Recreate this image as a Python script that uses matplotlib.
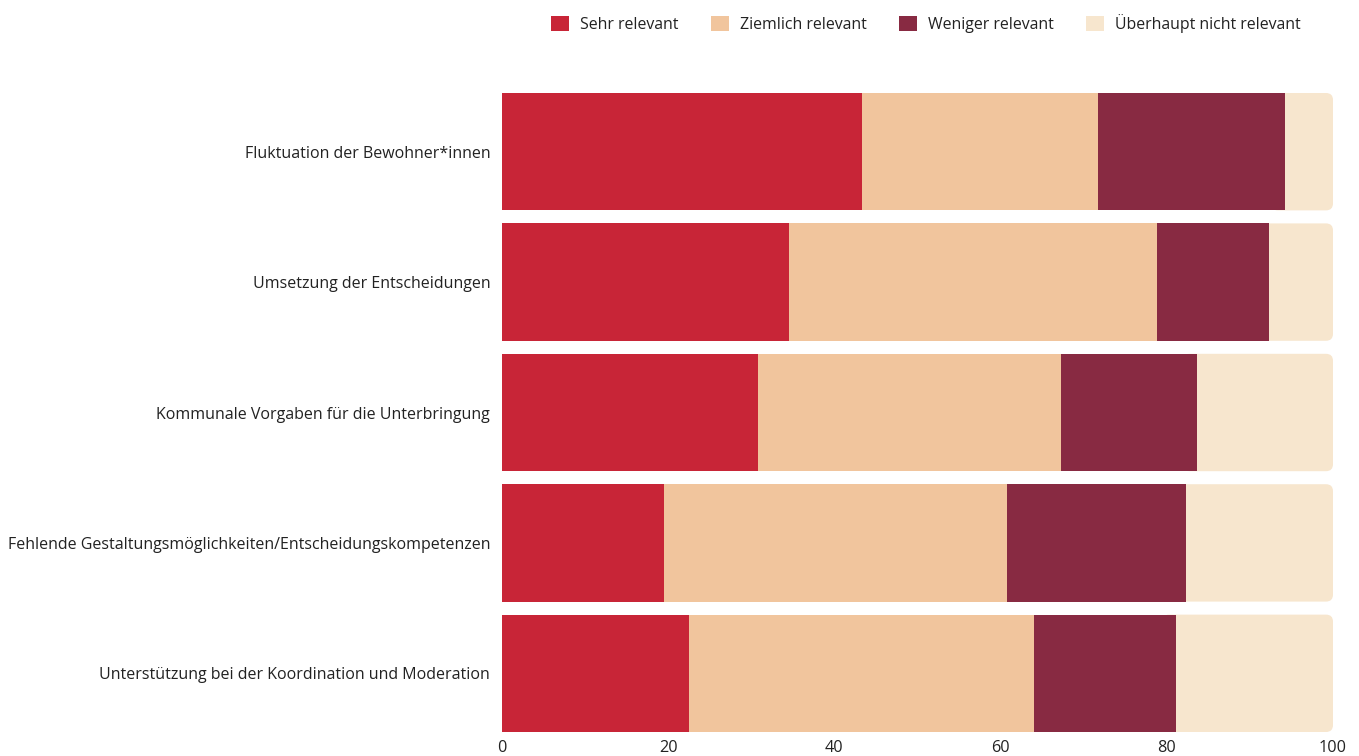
import matplotlib
matplotlib.use("Agg")
import matplotlib.pyplot as plt
from matplotlib.patches import FancyBboxPatch, Patch
import numpy as np

plt.rcParams['font.family'] = ['Open Sans', 'DejaVu Sans']

categories = [
    "Fluktuation der Bewohner*innen",
    "Umsetzung der Entscheidungen",
    "Kommunale Vorgaben für die Unterbringung",
    "Fehlende Gestaltungsmöglichkeiten/Entscheidungskompetenzen",
    "Unterstützung bei der Koordination und Moderation",
]
series_names = ["Sehr relevant", "Ziemlich relevant", "Weniger relevant", "Überhaupt nicht relevant"]
sehr = [43.3, 34.5, 30.8, 19.5, 22.5]
ziemlich = [28.4, 44.3, 36.5, 41.3, 41.5]
weniger = [22.5, 13.5, 16.3, 21.5, 17.1]
ueberhaupt = [5.8, 7.7, 16.4, 17.7, 18.9]
colors = ["#C82537", "#F1C59D", "#882A42", "#F7E6CE"]
xticks = [0, 20, 40, 60, 80, 100]

W, H = 1359, 756
fig = plt.figure(figsize=(W / 100, H / 100), dpi=100)
ax = fig.add_axes([502 / W, 1 - 732 / H, (1333 - 502) / W, (732 - 93) / H])

y = np.arange(len(categories))
bh = 0.9
data = [sehr, ziemlich, weniger, ueberhaupt]
left = np.zeros(len(categories))

px_x = (1333 - 502) / 100.0
px_y = (732 - 93) / 4.9
r_px = 7
r_x = r_px / px_x

for i, (vals, col) in enumerate(zip(data, colors)):
    vals = np.array(vals)
    if i == len(data) - 1:
        for yi, l, v in zip(y, left, vals):
            start = l - 2 * r_x
            p = FancyBboxPatch((start, yi - bh / 2), l + v - start, bh,
                               boxstyle=f"round,pad=0,rounding_size={r_x}",
                               mutation_aspect=px_x / px_y,
                               facecolor=col, edgecolor='none', zorder=1)
            ax.add_patch(p)
    else:
        ax.barh(y, vals, left=left, height=bh, color=col, edgecolor='none', zorder=2)
    left = left + vals

ax.set_xlim(0, 100)
ax.set_ylim(4.45, -0.45)
ax.set_yticks(y)
ax.set_yticklabels(categories, fontsize=11.5, color="#222222")
ax.set_xticks(xticks)
ax.set_xticklabels([str(t) for t in xticks], fontsize=11.7, color="#222222")
ax.tick_params(axis='both', length=0)
ax.tick_params(axis='y', pad=8.5)
ax.tick_params(axis='x', pad=6)
for s in ax.spines.values():
    s.set_visible(False)

handles = [Patch(facecolor=c, edgecolor='none', label=n) for c, n in zip(colors, series_names)]
fig.legend(handles=handles, loc='upper right', bbox_to_anchor=(1309 / W, 1 - 6 / H),
           ncol=4, frameon=False, fontsize=11.45, handlelength=1.13, handleheight=1.13,
           handletextpad=0.7, columnspacing=2.03, borderpad=0, labelcolor="#222222")

fig.savefig("out.png", dpi=100)
